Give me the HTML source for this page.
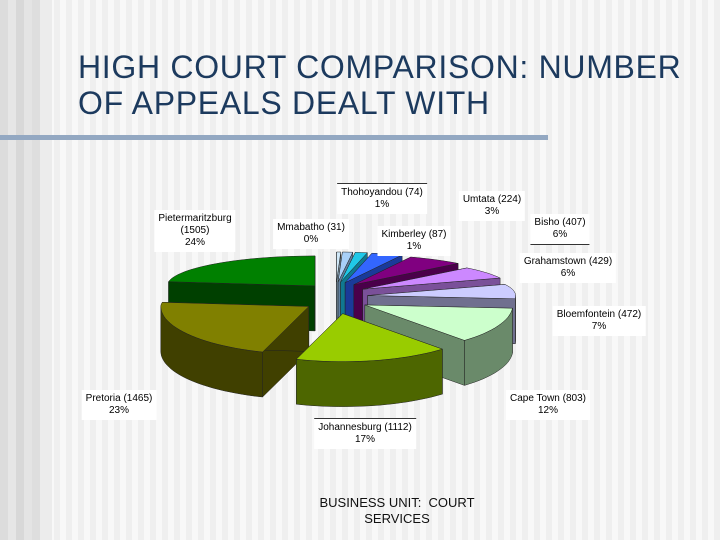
<!DOCTYPE html>
<html><head><meta charset="utf-8">
<style>
html,body{margin:0;padding:0}
body{width:720px;height:540px;position:relative;overflow:hidden;font-family:"Liberation Sans",sans-serif;
background:linear-gradient(90deg,#dcdcdc 0,#dcdcdc 8px,#e6e6e6 8px,#e6e6e6 16px,#d8d8d8 16px,#d8d8d8 24px,#e4e4e4 24px,#e4e4e4 32px,#dedede 32px,#dedede 40px,#ececec 40px,#ececec 52px,transparent 52px),
repeating-linear-gradient(90deg,#f8f8f8 0,#f8f8f8 6px,#efefef 6px,#efefef 12px);}
.title{position:absolute;left:78px;top:49px;font-size:32px;line-height:36px;color:#1c3a5e;letter-spacing:0.7px}
.rule{position:absolute;left:0;top:135px;width:548px;height:5px;background:#93a8c2}
.lbl{position:absolute;background:#fff;font-size:10px;line-height:12px;text-align:center;color:#000;padding:3px 4px;white-space:nowrap;transform:translateX(-50%)}
.foot{position:absolute;left:397px;top:495px;transform:translateX(-50%);font-size:13px;line-height:16px;text-align:center;color:#111}
</style></head><body>
<div class="title">HIGH COURT COMPARISON: NUMBER<br>OF APPEALS DEALT WITH</div>
<div class="rule"></div>
<svg id="pie" width="720" height="540" style="position:absolute;left:0;top:0"></svg>
<div class="lbl" style="left:382px;top:183px;border-top:1px solid #333">Thohoyandou (74)<br>1%</div>
<div class="lbl" style="left:195px;top:210px">Pietermaritzburg<br>(1505)<br>24%</div>
<div class="lbl" style="left:311px;top:219px">Mmabatho (31)<br>0%</div>
<div class="lbl" style="left:414px;top:226px">Kimberley (87)<br>1%</div>
<div class="lbl" style="left:492px;top:191px">Umtata (224)<br>3%</div>
<div class="lbl" style="left:560px;top:214px;border-bottom:1px solid #333">Bisho (407)<br>6%</div>
<div class="lbl" style="left:568px;top:253px">Grahamstown (429)<br>6%</div>
<div class="lbl" style="left:599px;top:306px">Bloemfontein (472)<br>7%</div>
<div class="lbl" style="left:119px;top:390px">Pretoria (1465)<br>23%</div>
<div class="lbl" style="left:548px;top:390px">Cape Town (803)<br>12%</div>
<div class="lbl" style="left:365px;top:418px;border-top:1px solid #333">Johannesburg (1112)<br>17%</div>
<div class="foot">BUSINESS UNIT:&nbsp; COURT<br>SERVICES</div>
<script>
const categories=["Mmabatho","Thohoyandou","Kimberley","Umtata","Bisho","Grahamstown","Bloemfontein","Cape Town","Johannesburg","Pretoria","Pietermaritzburg"];
const values=[31,74,87,224,407,429,472,803,1112,1465,1505];
const topColors=["#d0e8f8","#a8d0f8","#20c8e8","#3366ff","#800080","#cc88ff","#ccccff","#ccffcc","#99cc00","#808000","#008000"];
const sideColors=["#7890a0","#6080a0","#107890","#1a3a99","#4a004a","#7a5099","#70708f","#6a8a6a","#4d6600","#404000","#004000"];
const svg=document.getElementById('pie');const NS="http://www.w3.org/2000/svg";
const cx=336,cy=298,rx=148,ryB=30,ryF=48,depth=45,exX=32,exY=16;
const total=values.reduce((a,b)=>a+b,0);
function pt(ox,oy,t,dy){const c=Math.cos(t);const ry=c>0?ryB:ryF;return [ox+rx*Math.sin(t),oy-ry*c+(dy||0)];}
let a=0;const slices=[];
values.forEach((v,i)=>{const a0=a,a1=a+v/total*2*Math.PI;a=a1;const m=(a0+a1)/2;
 const ox=cx+exX*Math.sin(m),oy=cy-exY*Math.cos(m);slices.push({i,a0,a1,m,ox,oy});});
function arc(ox,oy,t0,t1,dy){let s="";const n=Math.max(2,Math.ceil((t1-t0)/0.05));for(let k=0;k<=n;k++){const t=t0+(t1-t0)*k/n;const p=pt(ox,oy,t,dy);s+=(k?"L":"")+p[0].toFixed(1)+","+p[1].toFixed(1);}return s;}
function mk(d,fill,name){const p=document.createElementNS(NS,'path');p.setAttribute('d',d);p.setAttribute('fill',fill);p.setAttribute('stroke','#222');p.setAttribute('stroke-width','0.5');


svg.appendChild(p);}
const order=slices.slice().sort((s,t)=>(-Math.cos(s.m))-(-Math.cos(t.m)));
order.forEach(s=>{const nm=categories[s.i].toLowerCase().replace(/ /g,'-');const sc=sideColors[s.i];
 [s.a0,s.a1].forEach(t=>{const p=pt(s.ox,s.oy,t);mk(`M${s.ox},${s.oy}L${p[0]},${p[1]}L${p[0]},${p[1]+depth}L${s.ox},${s.oy+depth}Z`,sc,'slice-side-'+nm);});
 const f0=Math.max(s.a0,Math.PI/2),f1=Math.min(s.a1,3*Math.PI/2);
 if(f1>f0){const back=arc(s.ox,s.oy,f0,f1,depth).split('L').reverse().join('L');mk('M'+arc(s.ox,s.oy,f0,f1,0)+'L'+back+'Z',sc,'slice-wall-'+nm);}
 mk(`M${s.ox},${s.oy}L`+arc(s.ox,s.oy,s.a0,s.a1,0)+'Z',topColors[s.i],'slice-'+nm);
});
</script>
</body></html>
